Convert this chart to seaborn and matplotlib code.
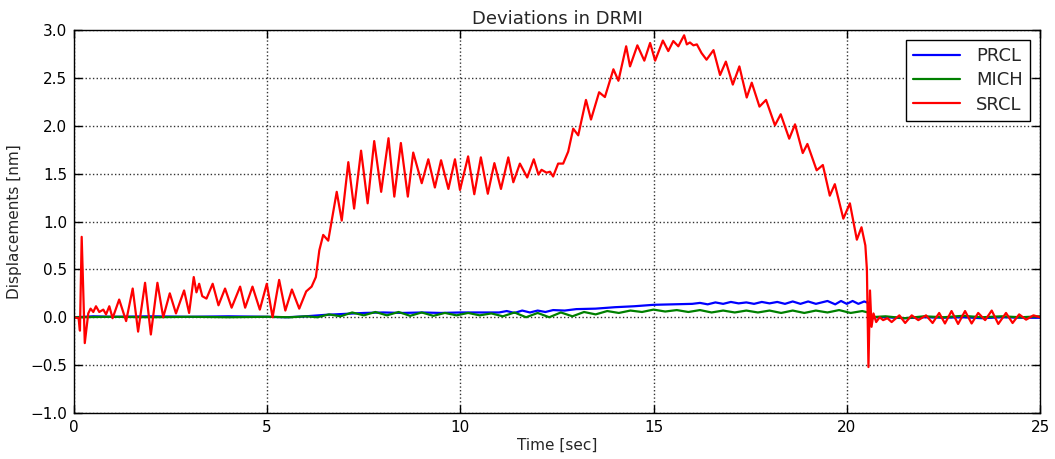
import numpy as np
import pandas as pd
import matplotlib
matplotlib.use("Agg")
import matplotlib.pyplot as plt
import seaborn as sns
from matplotlib.lines import Line2D

# ---- data ----
series_names = ["PRCL", "MICH", "SRCL"]
series_colors = ["#0000ff", "#008000", "#ff0000"]

prcl_t = [0.0, 0.5, 1.0, 2.0, 3.0, 4.0, 5.0, 5.5, 6.0, 6.5, 7.0, 7.5, 8.0, 8.5, 9.0, 9.5,
          10.0, 10.5, 11.0, 11.2, 11.4, 11.6, 11.8, 12.0, 12.2, 12.4, 12.7, 13.0, 13.5,
          14.0, 14.5, 15.0, 15.5, 16.0, 16.2, 16.4, 16.6, 16.8, 17.0, 17.2, 17.4, 17.6,
          17.8, 18.0, 18.2, 18.4, 18.6, 18.8, 19.0, 19.2, 19.5, 19.7, 19.85, 20.0, 20.15,
          20.3, 20.45, 20.55, 20.58, 20.7, 21.0, 21.5, 22.0, 22.5, 23.0, 23.5, 24.0, 24.5, 25.0]
prcl_y = [0.0, 0.01, 0.005, 0.01, 0.005, 0.01, 0.005, 0.0, 0.01, 0.025, 0.035, 0.045, 0.05,
          0.045, 0.05, 0.045, 0.05, 0.05, 0.05, 0.065, 0.045, 0.07, 0.05, 0.07, 0.055, 0.075,
          0.07, 0.085, 0.09, 0.105, 0.115, 0.13, 0.135, 0.14, 0.15, 0.135, 0.155, 0.14, 0.16,
          0.145, 0.155, 0.14, 0.16, 0.145, 0.16, 0.14, 0.165, 0.14, 0.165, 0.14, 0.17, 0.135,
          0.17, 0.14, 0.17, 0.14, 0.165, 0.15, -0.05, 0.0, 0.0, -0.01, 0.0, -0.005, 0.0,
          -0.01, 0.0, -0.005, -0.005]

mich_t = [0.0, 1.0, 2.0, 3.0, 4.0, 5.0, 5.6, 6.0, 6.3, 6.6, 6.9, 7.2, 7.5, 7.8, 8.1, 8.4,
          8.7, 9.0, 9.3, 9.6, 9.9, 10.2, 10.5, 10.8, 11.1, 11.4, 11.7, 12.0, 12.3, 12.6,
          12.9, 13.2, 13.5, 13.8, 14.1, 14.4, 14.7, 15.0, 15.3, 15.6, 15.9, 16.2, 16.5,
          16.8, 17.1, 17.4, 17.7, 18.0, 18.3, 18.6, 18.9, 19.2, 19.5, 19.8, 20.1, 20.4,
          20.55, 20.6, 21.0, 21.5, 22.0, 22.5, 23.0, 23.5, 24.0, 24.5, 25.0]
mich_y = [0.0, 0.005, 0.0, 0.005, 0.0, 0.005, 0.0, 0.01, 0.0, 0.03, 0.01, 0.05, 0.02,
          0.055, 0.02, 0.055, 0.015, 0.05, 0.015, 0.045, 0.02, 0.045, 0.02, 0.04, 0.01,
          0.05, 0.0, 0.045, 0.0, 0.05, 0.01, 0.055, 0.03, 0.065, 0.045, 0.07, 0.055, 0.08,
          0.06, 0.075, 0.055, 0.075, 0.05, 0.07, 0.05, 0.07, 0.05, 0.07, 0.045, 0.07, 0.045,
          0.07, 0.05, 0.075, 0.045, 0.065, 0.05, 0.0, 0.01, -0.01, 0.01, 0.0, 0.015, 0.0,
          0.01, 0.0, 0.01]

srcl_t = [0.0, 0.12, 0.155, 0.2, 0.28, 0.37, 0.43, 0.5, 0.57, 0.655, 0.76, 0.83, 0.915,
          1.0, 1.17, 1.35, 1.52, 1.66, 1.84, 1.99, 2.16, 2.31, 2.48, 2.64, 2.85, 2.98, 3.1,
          3.17, 3.24, 3.32, 3.43, 3.59, 3.74, 3.91, 4.08, 4.30, 4.43, 4.62, 4.81, 4.99,
          5.14, 5.31, 5.47, 5.64, 5.83, 6.01, 6.15, 6.26, 6.35, 6.45, 6.58, 6.80, 6.93,
          7.10, 7.25, 7.43, 7.60, 7.77, 7.95, 8.14, 8.29, 8.46, 8.64, 8.78, 9.0, 9.17,
          9.34, 9.50, 9.69, 9.86, 9.99, 10.20, 10.36, 10.53, 10.71, 10.88, 11.05, 11.24,
          11.37, 11.54, 11.73, 11.90, 12.02, 12.1, 12.23, 12.32, 12.40, 12.53, 12.66,
          12.79, 12.92, 13.05, 13.25, 13.38, 13.59, 13.74, 13.96, 14.09, 14.29, 14.39,
          14.58, 14.76, 14.91, 15.04, 15.24, 15.38, 15.51, 15.64, 15.79, 15.86, 15.94,
          16.03, 16.12, 16.24, 16.37, 16.55, 16.72, 16.87, 17.05, 17.22, 17.41, 17.54,
          17.74, 17.91, 18.14, 18.29, 18.51, 18.66, 18.86, 18.98, 19.22, 19.38, 19.56,
          19.69, 19.91, 20.08, 20.26, 20.38, 20.48, 20.52, 20.56, 20.60, 20.64, 20.69,
          20.76, 20.85, 20.94, 21.05, 21.16, 21.36, 21.51, 21.68, 21.85, 22.05, 22.22,
          22.39, 22.54, 22.71, 22.88, 23.06, 23.23, 23.40, 23.58, 23.75, 23.92, 24.12,
          24.29, 24.46, 24.64, 24.83, 25.0]
srcl_y = [0.0, -0.01, -0.14, 0.84, -0.27, 0.04, 0.09, 0.055, 0.115, 0.055, 0.08, 0.03,
          0.115, -0.01, 0.185, -0.04, 0.30, -0.15, 0.36, -0.18, 0.36, 0.0, 0.25, 0.04,
          0.28, 0.045, 0.42, 0.26, 0.35, 0.22, 0.195, 0.35, 0.125, 0.30, 0.10, 0.32, 0.10,
          0.32, 0.08, 0.35, 0.0, 0.39, 0.07, 0.29, 0.09, 0.27, 0.32, 0.42, 0.70, 0.86, 0.80,
          1.31, 1.01, 1.62, 1.135, 1.74, 1.19, 1.84, 1.31, 1.87, 1.26, 1.82, 1.26, 1.72,
          1.40, 1.65, 1.355, 1.64, 1.34, 1.65, 1.33, 1.68, 1.285, 1.67, 1.29, 1.61, 1.34,
          1.67, 1.41, 1.605, 1.46, 1.65, 1.49, 1.54, 1.51, 1.52, 1.47, 1.605, 1.605, 1.73,
          1.97, 1.90, 2.27, 2.065, 2.35, 2.30, 2.59, 2.47, 2.83, 2.62, 2.84, 2.68, 2.865,
          2.68, 2.89, 2.78, 2.885, 2.83, 2.945, 2.85, 2.87, 2.84, 2.85, 2.76, 2.69, 2.79,
          2.53, 2.67, 2.43, 2.62, 2.295, 2.45, 2.20, 2.27, 2.005, 2.12, 1.865, 2.015, 1.715,
          1.81, 1.535, 1.59, 1.27, 1.39, 1.03, 1.19, 0.81, 0.94, 0.75, 0.5, -0.52, 0.28,
          -0.10, 0.04, -0.05, 0.0, -0.03, -0.01, -0.05, 0.02, -0.06, 0.02, -0.03, 0.02,
          -0.06, 0.045, -0.065, 0.065, -0.07, 0.065, -0.065, 0.045, -0.03, 0.07, -0.07,
          0.045, -0.06, 0.03, -0.025, 0.02, 0.0]

title = "Deviations in DRMI"
xlabel = "Time [sec]"
ylabel = "Displacements [nm]"
xticks = [0, 5, 10, 15, 20, 25]
yticks = [-1.0, -0.5, 0.0, 0.5, 1.0, 1.5, 2.0, 2.5, 3.0]

# ---- build long-form table ----
frames = []
for name, t, y in zip(series_names, [prcl_t, mich_t, srcl_t], [prcl_y, mich_y, srcl_y]):
    frames.append(pd.DataFrame({"t": t, "y": y, "signal": name, "order": range(len(t))}))
df = pd.concat(frames, ignore_index=True)

# ---- style ----
sns.set_style("white", {
    "axes.edgecolor": "black",
    "xtick.direction": "in",
    "ytick.direction": "in",
    "xtick.top": True,
    "ytick.right": True,
    "xtick.bottom": True,
    "ytick.left": True,
})
plt.rcParams["font.family"] = ["DejaVu Sans"]
plt.rcParams["axes.unicode_minus"] = True

fig = plt.figure(figsize=(10.55, 4.59), dpi=100)
ax = fig.add_axes([0.0701, 0.1002, 0.9157, 0.8344])

sns.lineplot(data=df, x="t", y="y", hue="signal", hue_order=series_names,
             palette=dict(zip(series_names, series_colors)), estimator=None,
             sort=False, units="signal", linewidth=1.6, ax=ax, legend=False)

ax.set_xlim(0, 25)
ax.set_ylim(-1.0, 3.0)
ax.set_xticks(xticks)
ax.set_yticks(yticks)
ax.set_yticklabels([f"{v:.1f}".replace("-", "\u2212") for v in yticks])
ax.tick_params(axis="both", which="major", length=6, width=1, labelsize=11,
               color="black", labelcolor="black", pad=5)
ax.grid(True, linestyle=":", color="black", linewidth=1.0, alpha=0.8)
for sp in ax.spines.values():
    sp.set_color("black")
    sp.set_linewidth(1.0)

ax.set_title(title, fontsize=13, pad=4)
ax.set_xlabel(xlabel, fontsize=11, labelpad=2)
ax.set_ylabel(ylabel, fontsize=11, labelpad=6)

handles = [Line2D([0], [0], color=c, lw=1.6) for c in series_colors]
leg = ax.legend(handles, series_names, loc="upper right", fontsize=13,
                frameon=True, fancybox=False, framealpha=1.0, edgecolor="black",
                handlelength=2.6, borderpad=0.4, labelspacing=0.35,
                borderaxespad=0.55, handletextpad=0.9)
leg.get_frame().set_linewidth(1.0)

fig.savefig("out.png", dpi=100)
